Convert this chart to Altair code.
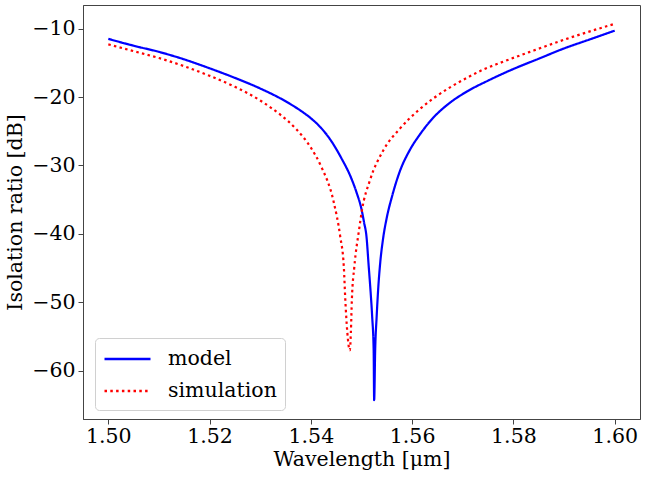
import altair as alt
import pandas as pd

model_wl = [1.500, 1.505, 1.510, 1.515, 1.520, 1.525, 1.530, 1.532, 1.534, 1.536,
            1.538, 1.540, 1.542, 1.544, 1.546, 1.548, 1.549, 1.550, 1.5505, 1.551,
            1.5514, 1.5518, 1.5521, 1.5524, 1.5525, 1.5527, 1.5530, 1.5533, 1.5537,
            1.5543, 1.5550, 1.5560, 1.5576, 1.5595, 1.5616, 1.5642, 1.5670, 1.5708,
            1.5750, 1.5800, 1.5850, 1.5900, 1.5950, 1.6000]
model_db = [-11.5, -12.5, -13.4, -14.5, -15.8, -17.2, -18.75, -19.45, -20.2, -21.05,
            -22.0, -23.1, -24.5, -26.4, -28.9, -31.9, -33.9, -36.4, -38.3, -40.5,
            -44.5, -48.5, -52.0, -57.0, -64.3, -57.0, -52.0, -48.0, -44.2,
            -40.5, -37.6, -34.6, -30.8, -27.8, -25.4, -23.0, -21.1, -19.2,
            -17.6, -15.9, -14.4, -12.9, -11.6, -10.3]

sim_wl = [1.500, 1.505, 1.510, 1.515, 1.520, 1.525, 1.530, 1.532, 1.534, 1.537,
          1.540, 1.542, 1.5445, 1.5458, 1.5465, 1.5468, 1.5472, 1.5477, 1.5479,
          1.5481, 1.5486, 1.5495, 1.5501, 1.5517, 1.5543, 1.5576, 1.5613, 1.5642,
          1.5708, 1.5740, 1.5774, 1.5840, 1.5905, 1.6000]
sim_db = [-12.3, -13.3, -14.3, -15.5, -16.9, -18.5, -20.5, -21.5, -22.6, -24.6,
          -27.4, -30.1, -35.3, -40.4, -44.7, -49.6, -54.4, -57.0, -54.4,
          -49.6, -44.7, -39.5, -36.5, -32.1, -27.8, -24.6, -21.9, -20.2,
          -17.2, -16.0, -15.0, -13.2, -11.5, -9.3]

series = ["model", "simulation"]
colors = ["#0000ff", "#ff0000"]
dashes = [[1, 0], [2.5, 3.3]]

df = pd.concat([
    pd.DataFrame({"wl": model_wl, "db": model_db, "series": "model", "ord": range(len(model_wl))}),
    pd.DataFrame({"wl": sim_wl, "db": sim_db, "series": "simulation", "ord": range(len(sim_wl))}),
])

font = "DejaVu Serif"
fs = 20.5

chart = alt.Chart(df).mark_line(strokeWidth=2.2, interpolate="monotone").encode(
    x=alt.X("wl:Q",
            scale=alt.Scale(domain=[1.495, 1.605], nice=False, zero=False),
            axis=alt.Axis(title="Wavelength [μm]", values=[1.50, 1.52, 1.54, 1.56, 1.58, 1.60],
                          format=".2f", grid=False, tickSize=5, labelPadding=2,
                          titlePadding=3)),
    y=alt.Y("db:Q",
            scale=alt.Scale(domain=[-67.05, -6.55], nice=False, zero=False),
            axis=alt.Axis(title="Isolation ratio [dB]", values=[-60, -50, -40, -30, -20, -10],
                          grid=False, tickSize=5, labelPadding=3, titlePadding=6)),
    color=alt.Color("series:N", scale=alt.Scale(domain=series, range=colors),
                    legend=alt.Legend(title=None, orient="none", legendX=12, legendY=333,
                                      symbolType="M-1,0L3,0", symbolSize=529,
                                      symbolStrokeWidth=2.5, labelFontSize=fs,
                                      labelFont=font, rowPadding=8, padding=8,
                                      fillColor="white", strokeColor="#d0d0d0",
                                      cornerRadius=4, labelOffset=39)),
    strokeDash=alt.StrokeDash("series:N", scale=alt.Scale(domain=series, range=dashes),
                              legend=None),
    order="ord:Q",
    detail="series:N",
).properties(
    width=557, height=414,
    padding={"left": 83, "top": 5, "right": 5, "bottom": 60},
    autosize=alt.AutoSizeParams(type="none"),
).configure_axis(
    labelFont=font, titleFont=font, labelFontSize=fs, titleFontSize=fs,
    titleFontWeight="normal", labelColor="black", titleColor="black",
    domainColor="#444", tickColor="#444", domainWidth=1,
).configure_view(
    stroke="#444", strokeWidth=1,
).configure_legend(
    labelColor="black",
)

chart.save("out.html", embed_options={"renderer": "svg", "actions": False})
